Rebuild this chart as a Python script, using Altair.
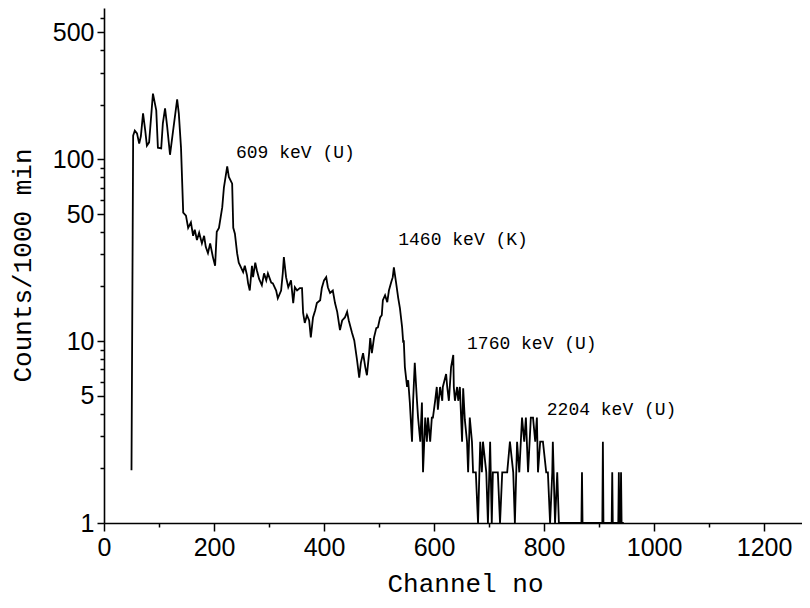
import altair as alt
import pandas as pd

# Spectrum: channel number and counts per 1000 min
CHANNEL = [
    50, 53, 56, 60, 64, 67, 71, 75, 78, 82, 87, 89, 95, 98, 104, 107, 111, 115, 120, 125,
    133, 136, 140, 144, 149, 153, 158, 162, 165, 169, 173, 178, 182, 185, 189, 193, 198, 202,
    205, 209, 215, 218, 224, 227, 233, 235, 238, 242, 245, 249, 253, 256, 260,
    262, 265, 269, 271, 275, 278, 282, 287, 291, 295, 298, 304, 307, 313, 316, 322, 325, 327,
    331, 335, 340, 344, 347, 351, 356, 360, 362, 365, 369, 373, 376, 380, 384, 387, 393, 396,
    400, 404, 407, 411, 416, 420, 424, 429, 433, 438, 442, 445, 451, 455, 460, 464, 467, 471,
    475, 478, 482, 484, 487, 491, 495, 498, 502, 505, 507, 511, 515, 518, 522, 525, 527, 531,
    535, 538, 542, 544,
    545, 547, 551, 553, 556, 560, 562, 565, 569, 571, 575, 578, 580, 584, 587, 589, 593, 596,
    598, 602, 605, 607, 611, 615, 616, 622, 624, 627, 631, 635, 636, 638, 642, 644, 647, 651,
    653, 656, 660, 662, 665, 669, 671, 676, 680, 684, 687, 689, 695, 698, 702, 705, 707, 716,
    720, 724, 733, 738, 744, 747, 751, 755, 760, 764, 767, 771, 776, 780, 784, 787, 789, 793,
    798, 804, 807, 811, 815, 816, 820, 824, 827,
    868, 869, 870, 906, 907, 908, 923, 924, 925, 935, 936, 937, 939, 940, 941, 945,
]
COUNTS = [
    1.95, 135, 144, 139, 122, 134, 179, 144, 119, 124, 193, 230, 186, 116, 115, 158, 191, 150, 106, 139,
    214, 179, 116, 51, 49, 42, 45, 38, 41, 36, 39.5, 34.5, 38, 33, 30.5, 34.5, 29, 26,
    40, 42, 54.6, 70, 91.5, 80, 73.5, 42, 39, 30.5, 27, 25.5, 24, 26, 23,
    20.8, 19, 26, 22.5, 27, 24.5, 22, 20.3, 23.6, 21.6, 23.6, 21, 20.8, 19, 17.2, 19, 23.6, 29,
    22.5, 19.8, 21.6, 16.2, 19.8, 19, 19.6, 19.6, 14.3, 12.6, 13.9, 13, 10.5, 13.5, 14.8, 16.2, 16.8, 19.6,
    21.6, 22.5, 19.8, 18.4, 19, 16.2, 14.5, 11.5, 13, 13.5, 14.5, 13, 11.1, 10.1, 7.9, 6.3, 7.6, 8.6,
    7.2, 6.5, 8.6, 10.4, 8.6, 10.5, 11.8, 11.9, 13.5, 13.9, 16.8, 17.9, 16.4, 19, 21, 22.5, 25.5, 21,
    17.2, 15.2, 11.9, 9.8,
    10.1, 7.2, 5.6, 6.1, 4.6, 2.8, 4.7, 7.6, 4.7, 3.8, 2.8, 4.6, 1.9, 3.8, 2.8, 3.8, 2.8, 3.8,
    3.8, 4.7, 5.6, 4.2, 5.6, 4.7, 5.6, 6.6, 5.6, 4.7, 7.2, 8.4, 5.6, 4.7, 5.6, 4.7, 5.6, 2.8,
    5.5, 3.7, 2.8, 1.9, 3.8, 2.8, 1.9, 1.9, 1, 2.8, 1.9, 2.8, 1.9, 1, 2.8, 1, 1.9, 1.9,
    1, 1.9, 1.9, 2.8, 1.9, 1, 2.8, 1.9, 3.8, 2.8, 3.8, 1.9, 3.8, 3.8, 2.8, 3.8, 1.9, 2.8,
    2.8, 1.9, 1.9, 1, 1.9, 2.8, 1, 1.9, 1,
    1, 1.9, 1, 1, 2.8, 1, 1, 1.9, 1, 1, 1.9, 1, 1, 1.9, 1, 1,
]

# Peak annotations
PEAK_LABELS = ["609 keV (U)", "1460 keV (K)", "1760 keV (U)", "2204 keV (U)"]
PEAK_LABEL_CHANNEL = [240, 535, 660, 805]
PEAK_LABEL_COUNTS = [108, 36, 9.6, 4.2]

# Axis ticks
X_MAJOR = [0, 200, 400, 600, 800, 1000, 1200]
X_MINOR = [50, 100, 150, 250, 300, 350, 450, 500, 550, 650, 700, 750, 850, 900, 950,
           1050, 1100, 1150, 1250]
Y_MAJOR = [1, 5, 10, 50, 100, 500]
Y_MINOR = [2, 3, 4, 6, 7, 8, 9, 20, 30, 40, 60, 70, 80, 90, 200, 300, 400, 600]

spec = pd.DataFrame({"channel": CHANNEL, "counts": COUNTS})
labels = pd.DataFrame({"channel": PEAK_LABEL_CHANNEL, "counts": PEAK_LABEL_COUNTS,
                       "text": PEAK_LABELS})

x_scale = alt.Scale(domain=[0, 1269], nice=False, zero=False)
y_scale = alt.Scale(type="log", domain=[1, 680], nice=False)

x_major_js = "[" + ",".join(str(v) for v in X_MAJOR) + "]"
y_major_js = "[" + ",".join(str(v) for v in Y_MAJOR) + "]"

x_axis = alt.Axis(
    values=sorted(X_MAJOR + X_MINOR),
    labelExpr=f"indexof({x_major_js}, datum.value) >= 0 ? '' + datum.value : ''",
    tickSize={"condition": {"test": f"indexof({x_major_js}, datum.value) >= 0", "value": 8},
              "value": 4},
    grid=False,
    labelFont="Liberation Sans", labelFontSize=25, labelColor="black", labelPadding=4,
    labelFlush=False, labelOverlap=False,
    domainColor="black", domainWidth=1.6, tickColor="black", tickWidth=1.5,
    title="Channel no", titleFont="Liberation Mono", titleFontSize=26,
    titleFontWeight="normal", titleColor="black",
    titleX=361, titleY=60, titleAlign="center", titleBaseline="middle",
)
y_axis = alt.Axis(
    values=sorted(Y_MAJOR + Y_MINOR),
    labelExpr=f"indexof({y_major_js}, datum.value) >= 0 ? '' + datum.value : ''",
    tickSize={"condition": {"test": f"indexof({y_major_js}, datum.value) >= 0", "value": 7},
              "value": 4},
    grid=False,
    labelFont="Liberation Sans", labelFontSize=25, labelColor="black", labelPadding=3,
    labelFlush=False, labelOverlap=False,
    domainColor="black", domainWidth=1.6, tickColor="black", tickWidth=1.5,
    title="Counts/1000 min", titleFont="Liberation Mono", titleFontSize=26,
    titleFontWeight="normal", titleColor="black",
    titleX=-82, titleY=257, titleAngle=270, titleAlign="center", titleBaseline="middle",
)

line = alt.Chart(spec).mark_line(color="black", strokeWidth=1.8, clip=True).encode(
    x=alt.X("channel:Q", scale=x_scale, axis=x_axis),
    y=alt.Y("counts:Q", scale=y_scale, axis=y_axis),
    order="channel:Q",
)

text = alt.Chart(labels).mark_text(
    align="left", baseline="middle", font="Liberation Mono", fontSize=18, color="black"
).encode(
    x=alt.X("channel:Q", scale=x_scale),
    y=alt.Y("counts:Q", scale=y_scale),
    text="text:N",
)

chart = alt.layer(line, text).properties(
    width=698, height=515,
    autosize=alt.AutoSizeParams(type="none"),
    padding={"left": 96, "top": 0, "right": 0, "bottom": 77},
    background="white",
).configure_view(stroke=None)

chart.save("out.html", embed_options={"renderer": "svg", "actions": False})
